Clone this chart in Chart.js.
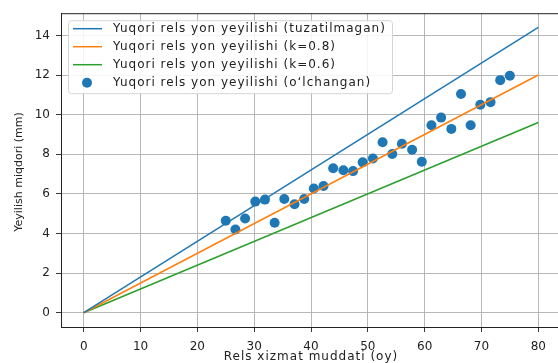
<!DOCTYPE html>
<html lang="en">
  <head>
    <meta charset="UTF-8" />
    <title>Yeyilish</title>
    <style>
      html, body { margin: 0; padding: 0; overflow: hidden; background: #fff; }
      #wrap { width: 566px; height: 363px; }
    </style>
  </head>
  <body>
    <div id="wrap"><canvas id="myChart"></canvas></div>

    <script src="https://cdn.jsdelivr.net/npm/chart.js@4/dist/chart.umd.min.js"></script>
    <script>
      // line ends (x = 0 and x = 80)
      const lineX = [0, 80];
      const baseY = [0, 14.4];
      const k08Y = [0, 12.0];
      const k06Y = [0, 9.6];

      // measured points
      const measX = [25.0, 26.7, 28.4, 30.2, 31.9, 33.6, 35.3, 37.1, 38.8, 40.5,
        42.2, 43.9, 45.7, 47.4, 49.1, 50.9, 52.6, 54.3, 56.0, 57.8,
        59.5, 61.2, 62.9, 64.7, 66.4, 68.1, 69.8, 71.6, 73.3, 75.0];
      const measY = [4.64, 4.2, 4.76, 5.61, 5.71, 4.54, 5.74, 5.48, 5.74, 6.27,
        6.4, 7.29, 7.19, 7.15, 7.59, 7.79, 8.61, 8.01, 8.53, 8.23,
        7.62, 9.46, 9.85, 9.28, 11.04, 9.46, 10.5, 10.63, 11.74, 11.96];

      const labels = [
        "Yuqori rels yon yeyilishi (tuzatilmagan)",
        "Yuqori rels yon yeyilishi (k=0.8)",
        "Yuqori rels yon yeyilishi (k=0.6)",
        "Yuqori rels yon yeyilishi (o\u2018lchangan)"
      ];
      const xTitle = "Rels xizmat muddati (oy)";
      const yTitle = "Yeyilish miqdori (mm)";
      const xTicks = [0, 10, 20, 30, 40, 50, 60, 70, 80];
      const yTicks = [0, 2, 4, 6, 8, 10, 12, 14];

      const colors = ["#1f77b4", "#ff7f0e", "#2ca02c", "#1f77b4"];
      const font = "DejaVu Sans";

      const pts = (xs, ys) => xs.map((x, i) => ({ x: x, y: ys[i] }));
      const lineSet = (i, ys) => ({
        type: "line",
        label: labels[i],
        data: pts(lineX, ys),
        borderColor: colors[i],
        borderWidth: 1.5,
        pointRadius: 0,
        fill: false
      });

      // legend inside the axes, axis titles, top/right spines
      const mplBits = {
        id: "mplBits",
        afterDraw(chart) {
          const c = chart.ctx;
          const a = chart.chartArea;
          c.save();
          c.strokeStyle = "#222";
          c.lineWidth = 1;
          c.strokeRect(a.left + 0.5, a.top + 0.5, a.right - a.left, a.bottom - a.top);

          const bx = a.left + 7, by = a.top + 7, bw = 324, bh = 73;
          c.fillStyle = "rgba(255,255,255,0.85)";
          c.strokeStyle = "#d5d5d5";
          c.beginPath();
          c.roundRect(bx + 0.5, by + 0.5, bw, bh, 3);
          c.fill();
          c.stroke();

          c.font = "12px '" + font + "'";
          c.letterSpacing = "1px";
          c.textBaseline = "middle";
          chart.data.datasets.forEach((ds, i) => {
            const y = by + 8.5 + i * 18;
            if (ds.type === "line") {
              c.strokeStyle = ds.borderColor;
              c.lineWidth = 1.5;
              c.beginPath();
              c.moveTo(bx + 5, y);
              c.lineTo(bx + 34, y);
              c.stroke();
            } else {
              c.fillStyle = ds.backgroundColor;
              c.beginPath();
              c.arc(bx + 19, y, 5, 0, Math.PI * 2);
              c.fill();
            }
            c.fillStyle = "#222";
            c.textAlign = "left";
            c.fillText(ds.label, bx + 45, y);
          });

          // axis titles
          c.textAlign = "center";
          c.fillText(xTitle, 311, 357);
          c.font = "11px '" + font + "'";
          c.letterSpacing = "0px";
          c.translate(19, 172);
          c.rotate(-Math.PI / 2);
          c.fillText(yTitle, 0, 0);
          c.restore();
        }
      };

      const ctx = document.getElementById("myChart").getContext("2d");
      new Chart(ctx, {
        type: "scatter",
        data: {
          datasets: [
            lineSet(0, baseY),
            lineSet(1, k08Y),
            lineSet(2, k06Y),
            {
              type: "scatter",
              label: labels[3],
              data: pts(measX, measY),
              backgroundColor: colors[3],
              borderWidth: 0,
              pointRadius: 5
            }
          ]
        },
        options: {
          responsive: true,
          maintainAspectRatio: false,
          animation: false,
          layout: { padding: { top: 12, right: 3, left: 0, bottom: 0 } },
          plugins: { legend: { display: false }, tooltip: { enabled: false } },
          scales: {
            x: {
              type: "linear",
              min: -4,
              max: 84,
              afterBuildTicks: s => { s.ticks = xTicks.map(v => ({ value: v })); },
              afterFit: s => { s.height = 36; },
              ticks: { color: "#222", font: { family: font, size: 12 }, padding: 8 },
              grid: { color: "#b0b0b0", lineWidth: 0.9, tickColor: "#222", tickLength: 5 },
              border: { color: "#222", width: 1 }
            },
            y: {
              type: "linear",
              min: -0.72,
              max: 15.12,
              afterBuildTicks: s => { s.ticks = yTicks.map(v => ({ value: v })); },
              afterFit: s => { s.width = 61; },
              ticks: { color: "#222", font: { family: font, size: 12 }, padding: 6 },
              grid: { color: "#b0b0b0", lineWidth: 0.9, tickColor: "#222", tickLength: 5 },
              border: { color: "#222", width: 1 }
            }
          }
        },
        plugins: [mplBits]
      });
    </script>
  </body>
</html>
